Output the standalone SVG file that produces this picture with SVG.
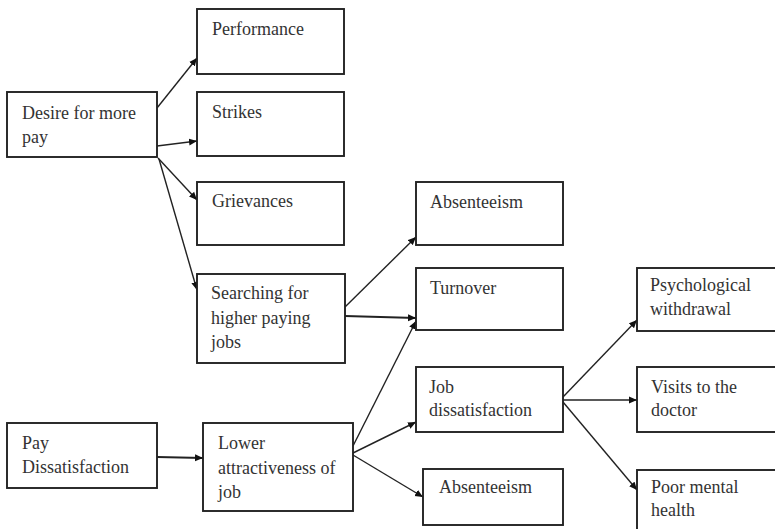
<svg xmlns="http://www.w3.org/2000/svg" width="775" height="529" viewBox="0 0 775 529">
<defs>
<style>
.box{fill:#fff;stroke:#222;stroke-width:1.9}
.t{font-family:"Liberation Serif","Times New Roman",serif;font-size:18px;fill:#333}
.c{stroke:#222;stroke-width:1.4;fill:none;marker-end:url(#ah)}
</style>
<marker id="ah" markerUnits="userSpaceOnUse" markerWidth="9" markerHeight="8" refX="8" refY="4" orient="auto">
<path d="M0,0.5 L8,4 L0,7.5 Z" fill="#111"/>
</marker>
</defs>
<rect width="775" height="529" fill="#fff"/>
<g id="connectors">
<line class="c" x1="157" y1="108" x2="197" y2="58"/>
<line class="c" x1="157" y1="146" x2="197" y2="141"/>
<line class="c" x1="158" y1="158" x2="197" y2="200"/>
<line class="c" x1="159" y1="159" x2="197" y2="290"/>
<line class="c" x1="345" y1="307" x2="416" y2="237"/>
<line class="c" x1="345" y1="316" x2="416" y2="318" style="stroke-width:2"/>
<line class="c" x1="353" y1="446" x2="416" y2="321"/>
<line class="c" x1="353" y1="453" x2="416" y2="422"/>
<line class="c" x1="353" y1="455" x2="423" y2="497"/>
<line class="c" x1="157" y1="457" x2="203" y2="458" style="stroke-width:2"/>
<line class="c" x1="563" y1="397" x2="637" y2="320"/>
<line class="c" x1="563" y1="400" x2="637" y2="400"/>
<line class="c" x1="563" y1="402" x2="637" y2="490"/>
</g>
<g id="desire"><rect class="box" x="7" y="92" width="150" height="65"/><text class="t" x="22" y="119">Desire for more</text><text class="t" x="22" y="143">pay</text></g>
<g id="performance"><rect class="box" x="197" y="9" width="147" height="65"/><text class="t" x="212" y="35">Performance</text></g>
<g id="strikes"><rect class="box" x="197" y="92" width="147" height="64"/><text class="t" x="212" y="118">Strikes</text></g>
<g id="grievances"><rect class="box" x="197" y="182" width="147" height="63"/><text class="t" x="212" y="207">Grievances</text></g>
<g id="searching"><rect class="box" x="197" y="274" width="148" height="89"/><text class="t" x="211" y="299">Searching for</text><text class="t" x="211" y="324">higher paying</text><text class="t" x="211" y="348">jobs</text></g>
<g id="absenteeism1"><rect class="box" x="416" y="182" width="147" height="63"/><text class="t" x="430" y="208">Absenteeism</text></g>
<g id="turnover"><rect class="box" x="416" y="268" width="147" height="62"/><text class="t" x="430" y="294">Turnover</text></g>
<g id="pay"><rect class="box" x="7" y="423" width="150" height="65"/><text class="t" x="22" y="449">Pay</text><text class="t" x="22" y="473">Dissatisfaction</text></g>
<g id="lower"><rect class="box" x="203" y="423" width="150" height="88"/><text class="t" x="218" y="449">Lower</text><text class="t" x="218" y="474">attractiveness of</text><text class="t" x="218" y="498">job</text></g>
<g id="jobdis"><rect class="box" x="416" y="367" width="147" height="65"/><text class="t" x="429" y="393">Job</text><text class="t" x="429" y="416">dissatisfaction</text></g>
<g id="absenteeism2"><rect class="box" x="423" y="469" width="140" height="56"/><text class="t" x="439" y="493">Absenteeism</text></g>
<g id="psych"><rect class="box" x="637" y="268" width="150" height="63"/><text class="t" x="650" y="291">Psychological</text><text class="t" x="650" y="315">withdrawal</text></g>
<g id="visits"><rect class="box" x="637" y="367" width="150" height="65"/><text class="t" x="651" y="393">Visits to the</text><text class="t" x="651" y="416">doctor</text></g>
<g id="poor"><rect class="box" x="637" y="470" width="150" height="70"/><text class="t" x="651" y="493">Poor mental</text><text class="t" x="651" y="516">health</text></g>
</svg>
